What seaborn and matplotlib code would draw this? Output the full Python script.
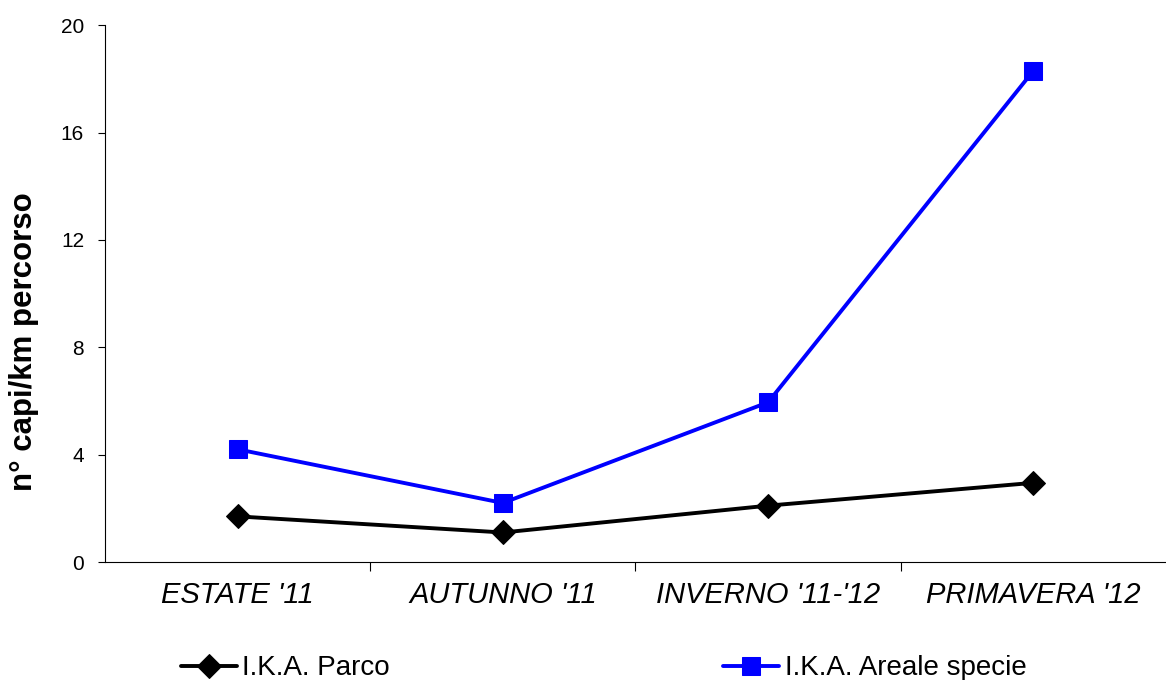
import pandas as pd
import matplotlib.pyplot as plt
import seaborn as sns

# dati
stagioni = ["ESTATE '11", "AUTUNNO '11", "INVERNO '11-'12", "PRIMAVERA '12"]
ika_parco = [1.7, 1.1, 2.1, 2.95]
ika_areale = [4.2, 2.2, 5.95, 18.3]

df = pd.DataFrame({
    'pos': range(len(stagioni)),
    'stagione': stagioni,
    'parco': ika_parco,
    'areale': ika_areale,
})

sns.set_style('white')
plt.rcParams['font.family'] = ['Liberation Sans', 'DejaVu Sans']
plt.rcParams['text.color'] = 'black'
plt.rcParams['axes.labelcolor'] = 'black'
plt.rcParams['xtick.color'] = 'black'
plt.rcParams['ytick.color'] = 'black'

fig = plt.figure(figsize=(11.66, 6.8), dpi=100)
ax = fig.add_axes([0.09, 0.1735, 0.91, 0.7895])

sns.lineplot(data=df, x='pos', y='parco', ax=ax, color='black', lw=2.8,
             marker='D', markersize=12, markeredgecolor='black',
             label='I.K.A. Parco')
sns.lineplot(data=df, x='pos', y='areale', ax=ax, color='#0000ff', lw=2.8,
             marker='s', markersize=13, markeredgecolor='#0000ff',
             label='I.K.A. Areale specie')

ax.set_xlim(-0.5, 3.5)
ax.set_ylim(0, 20)
ax.set_yticks([0, 4, 8, 12, 16, 20])
ax.tick_params(axis='y', labelsize=15, length=5, width=0.8, pad=10,
               direction='out', left=True)
ax.set_xticks(range(len(stagioni)))
ax.set_xticklabels(stagioni, fontsize=21, style='italic')
ax.tick_params(axis='x', length=0, pad=14)
ax.set_xticks([0.5, 1.5, 2.5], minor=True)
ax.tick_params(axis='x', which='minor', length=6.5, width=0.8, direction='out', bottom=True)

ax.set_xlabel('')
ax.set_ylabel('n° capi/km percorso', fontsize=22.5, fontweight='bold')
ax.yaxis.set_label_coords(-0.062, 0.41)

for s in ['top', 'right']:
    ax.spines[s].set_visible(False)
for s in ['left', 'bottom']:
    ax.spines[s].set_color('black')
    ax.spines[s].set_linewidth(0.8)

ax.legend_.remove()
h, l = ax.get_legend_handles_labels()
fig.legend(h, l, loc='center left', bbox_to_anchor=(0.146, 0.017), ncol=2,
           frameon=False, fontsize=20, handlelength=2.0, handletextpad=0.2,
           columnspacing=12.0, borderaxespad=0)

fig.savefig('out.png', dpi=100, facecolor='white')
